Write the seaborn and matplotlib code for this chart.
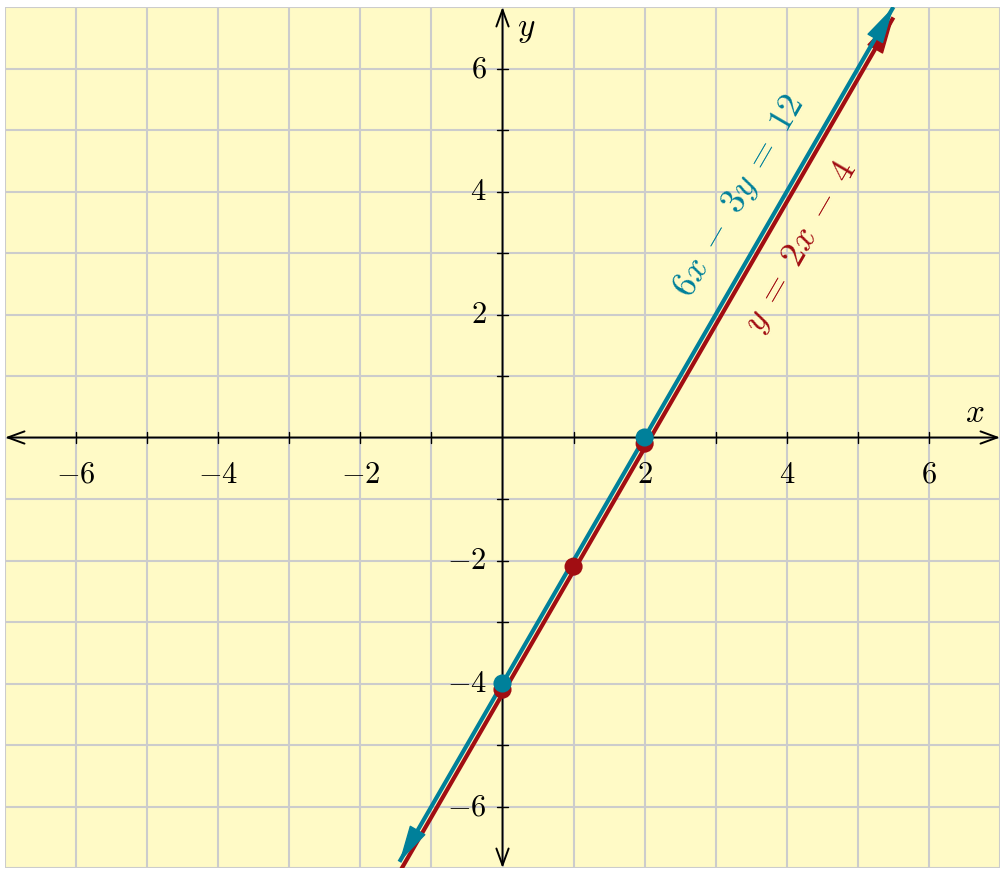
import numpy as np
import matplotlib
matplotlib.use("Agg")
import matplotlib.pyplot as plt
import seaborn as sns
import pandas as pd

# Data
line_x = [-1.45, 5.5]
teal_y = [-6.9, 7.0]
red_y = [-7.07, 6.83]

teal_pts_x = [0, 2]
teal_pts_y = [-4.0, 0.0]
red_pts_x = [0, 1, 2]
red_pts_y = [-4.1, -2.1, -0.1]

tick_vals = [-6, -4, -2, 2, 4, 6]
teal_label = r"$6x\;-\;3y\;=\;12$"
red_label = r"$y\;=\;2x\;-\;4$"

teal = "#00809a"
red = "#a10d12"
bg = "#fffac6"

sns.set_style("white")
plt.rcParams["mathtext.fontset"] = "cm"
plt.rcParams["font.family"] = ["DejaVu Serif"]
plt.rcParams["text.color"] = "black"

fig = plt.figure(figsize=(10.08, 8.75), dpi=100)
ax = fig.add_axes([5 / 1008, 7 / 875, 995 / 1008, 861 / 875])
ax.set_facecolor(bg)
ax.set_xlim(-7, 7)
ax.set_ylim(-7, 7)

# grid
ax.set_xticks(np.arange(-7, 8, 1))
ax.set_yticks(np.arange(-7, 8, 1))
ax.grid(True, color="#cccccc", linewidth=1.5, zorder=0)
for s in ax.spines.values():
    s.set_visible(False)

ax.tick_params(length=0, labelbottom=False, labelleft=False)

# axes with arrows
axis_arrow = dict(arrowstyle="<->,head_length=0.6,head_width=0.22", color="black",
                  lw=1.4, mutation_scale=20, shrinkA=0, shrinkB=0)
ax.annotate("", xy=(7, 0), xytext=(-7, 0), arrowprops=axis_arrow, zorder=2)
ax.annotate("", xy=(0, 7), xytext=(0, -7), arrowprops=axis_arrow, zorder=2)

# tick marks
for v in range(-6, 7):
    if v == 0:
        continue
    ax.plot([v, v], [-0.09, 0.09], color="black", lw=1, zorder=2)
    ax.plot([-0.075, 0.075], [v, v], color="black", lw=1, zorder=2)

for v in tick_vals:
    ax.text(v, -0.6, f"${v}$", ha="center", va="center", fontsize=22, zorder=3)
    ax.text(-0.22, v, f"${v}$", ha="right", va="center", fontsize=22, zorder=3)

ax.text(6.65, 0.4, r"$x$", ha="center", va="center", fontsize=24)
ax.text(0.34, 6.65, r"$y$", ha="center", va="center", fontsize=24)

# lines
red_df = pd.DataFrame({"x": line_x, "y": red_y})
teal_df = pd.DataFrame({"x": line_x, "y": teal_y})
sns.lineplot(data=red_df, x="x", y="y", color=red, lw=3.0, ax=ax, zorder=4)
sns.lineplot(data=teal_df, x="x", y="y", color=teal, lw=3.0, ax=ax, zorder=5)
for ln in ax.lines[-2:]:
    ln.set_solid_capstyle("butt")

for df, c, z in [(red_df, red, 4), (teal_df, teal, 5)]:
    x0, x1 = df["x"].iloc[0], df["x"].iloc[-1]
    y0, y1 = df["y"].iloc[0], df["y"].iloc[-1]
    dx, dy = (x1 - x0) * 0.05, (y1 - y0) * 0.05
    head = dict(arrowstyle="-|>,head_length=0.8,head_width=0.2", color=c, lw=1,
                mutation_scale=30, shrinkA=0, shrinkB=0)
    ax.annotate("", xy=(x1, y1), xytext=(x1 - dx, y1 - dy), arrowprops=head,
                zorder=z)
    ax.annotate("", xy=(x0, y0), xytext=(x0 + dx, y0 + dy), arrowprops=head,
                zorder=z)

# points
sns.scatterplot(x=red_pts_x, y=red_pts_y, color=red, s=170, edgecolor="none",
                ax=ax, zorder=6)
sns.scatterplot(x=teal_pts_x, y=teal_pts_y, color=teal, s=170, edgecolor="none",
                ax=ax, zorder=7)

ang = np.degrees(np.arctan2(2 * 61.33, 71.17))
ax.text(3.33, 3.91, teal_label, color=teal, fontsize=26, rotation=ang,
        ha="center", va="center", rotation_mode="anchor")
ax.text(4.2, 3.1, red_label, color=red, fontsize=26, rotation=ang,
        ha="center", va="center", rotation_mode="anchor")

ax.set_xlabel("")
ax.set_ylabel("")

fig.savefig("out.png", dpi=100, facecolor="white")
